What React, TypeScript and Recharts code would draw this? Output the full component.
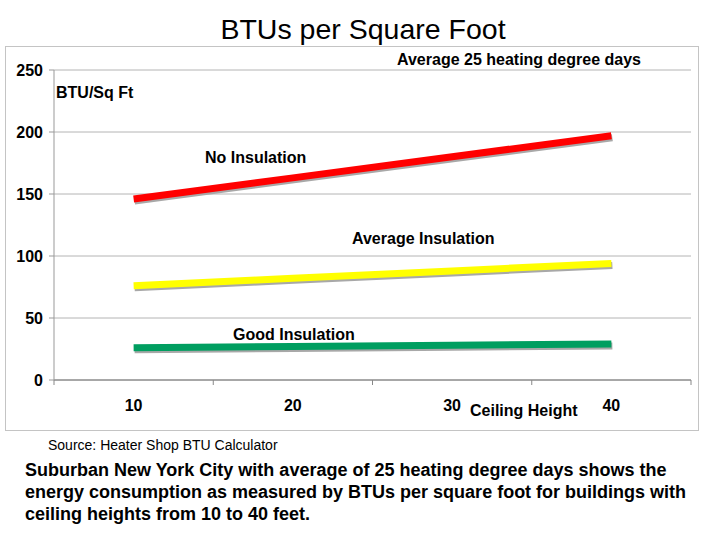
import { LineChart, Line, XAxis, YAxis, CartesianGrid } from 'recharts';

const heights = [10, 20, 30, 40];
const noInsulation = [146, 163, 180, 197];
const avgInsulation = [76, 82, 88, 94];
const goodInsulation = [26, 27, 28, 29];
const yTicks = [0, 50, 100, 150, 200, 250];
// category edges, where Excel puts its tick marks
const xEdges = [5, 15, 25, 35, 45];

const data = heights.map((h, i) => ({
  h,
  none: noInsulation[i],
  avg: avgInsulation[i],
  good: goodInsulation[i],
}));

const font = '"Liberation Sans", Arial, sans-serif';

const XTick = (props: any) => {
  const { x, y, payload } = props;
  if (xEdges.includes(payload.value)) {
    return <line x1={x} x2={x} y1={y} y2={y + 5} stroke='#888' />;
  }
  return (
    <text x={x} y={y + 31} textAnchor='middle' fontSize={16} fontWeight='bold' fontFamily={font} fill='#000'>
      {payload.value}
    </text>
  );
};

const note = (text: string, left: number, cy: number, size = 16, bold = true) => (
  <div
    style={{
      position: 'absolute',
      left,
      top: cy - 10,
      lineHeight: '20px',
      fontSize: size,
      fontWeight: bold ? 'bold' : 'normal',
      fontFamily: font,
      whiteSpace: 'nowrap',
      color: '#000',
    }}
  >
    {text}
  </div>
);

export default function App() {
  return (
    <div style={{ position: 'absolute', left: 0, top: 0, width: 720, height: 540, background: '#fff', fontFamily: font }}>
      <style>{'.btu-line { filter: drop-shadow(1px 2.5px 0 #a8a8a8); }'}</style>
      <div
        style={{
          position: 'absolute',
          left: 0,
          width: 726,
          top: 12,
          textAlign: 'center',
          fontSize: 28.5,
          lineHeight: '34px',
        }}
      >
        BTUs per Square Foot
      </div>
      <div
        style={{
          position: 'absolute',
          left: 5,
          top: 46,
          width: 694,
          height: 385,
          border: '1.5px solid #c4c4c4',
          boxSizing: 'border-box',
        }}
      />
      <div style={{ position: 'absolute', left: 0, top: 0 }}>
        <LineChart width={720} height={540} data={data} margin={{ top: 70, right: 29, bottom: 120, left: 0 }}>
          <CartesianGrid vertical={false} stroke='#b4b4b4' />
          <XAxis
            dataKey='h'
            type='number'
            domain={[5, 45]}
            ticks={[...xEdges.slice(0, 1), ...heights.flatMap((h, i) => [h, xEdges[i + 1]])]}
            interval={0}
            height={40}
            tickSize={0}
            tickMargin={0}
            tickLine={false}
            axisLine={{ stroke: '#777' }}
            tick={XTick}
          />
          <YAxis
            width={54}
            domain={[0, 250]}
            ticks={yTicks}
            interval={0}
            tickSize={5}
            tickMargin={6}
            axisLine={{ stroke: '#999' }}
            tickLine={{ stroke: '#999' }}
            tick={{ fill: '#000', fontSize: 16, fontWeight: 'bold', fontFamily: font }}
          />
          <Line className='btu-line' dataKey='none' stroke='#ff0000' strokeWidth={7} dot={false} activeDot={false} isAnimationActive={false} />
          <Line className='btu-line' dataKey='avg' stroke='#ffff00' strokeWidth={7} dot={false} activeDot={false} isAnimationActive={false} />
          <Line className='btu-line' dataKey='good' stroke='#009e60' strokeWidth={7} dot={false} activeDot={false} isAnimationActive={false} />
        </LineChart>
      </div>
      {note('Average 25 heating degree days', 397, 60)}
      {note('BTU/Sq Ft', 56, 93)}
      {note('No Insulation', 205, 158)}
      {note('Average Insulation', 352, 239)}
      {note('Good Insulation', 233, 335)}
      {note('Ceiling Height', 470, 411)}
      {note('Source: Heater Shop BTU Calculator', 48, 445, 14, false)}
      <div
        style={{
          position: 'absolute',
          left: 25,
          top: 459,
          fontSize: 18,
          fontWeight: 'bold',
          lineHeight: '22px',
          color: '#000',
          whiteSpace: 'nowrap',
        }}
      >
        Suburban New York City with average of 25 heating degree days shows the
        <br />
        energy consumption as measured by BTUs per square foot for buildings with
        <br />
        ceiling heights from 10 to 40 feet.
      </div>
    </div>
  );
}
